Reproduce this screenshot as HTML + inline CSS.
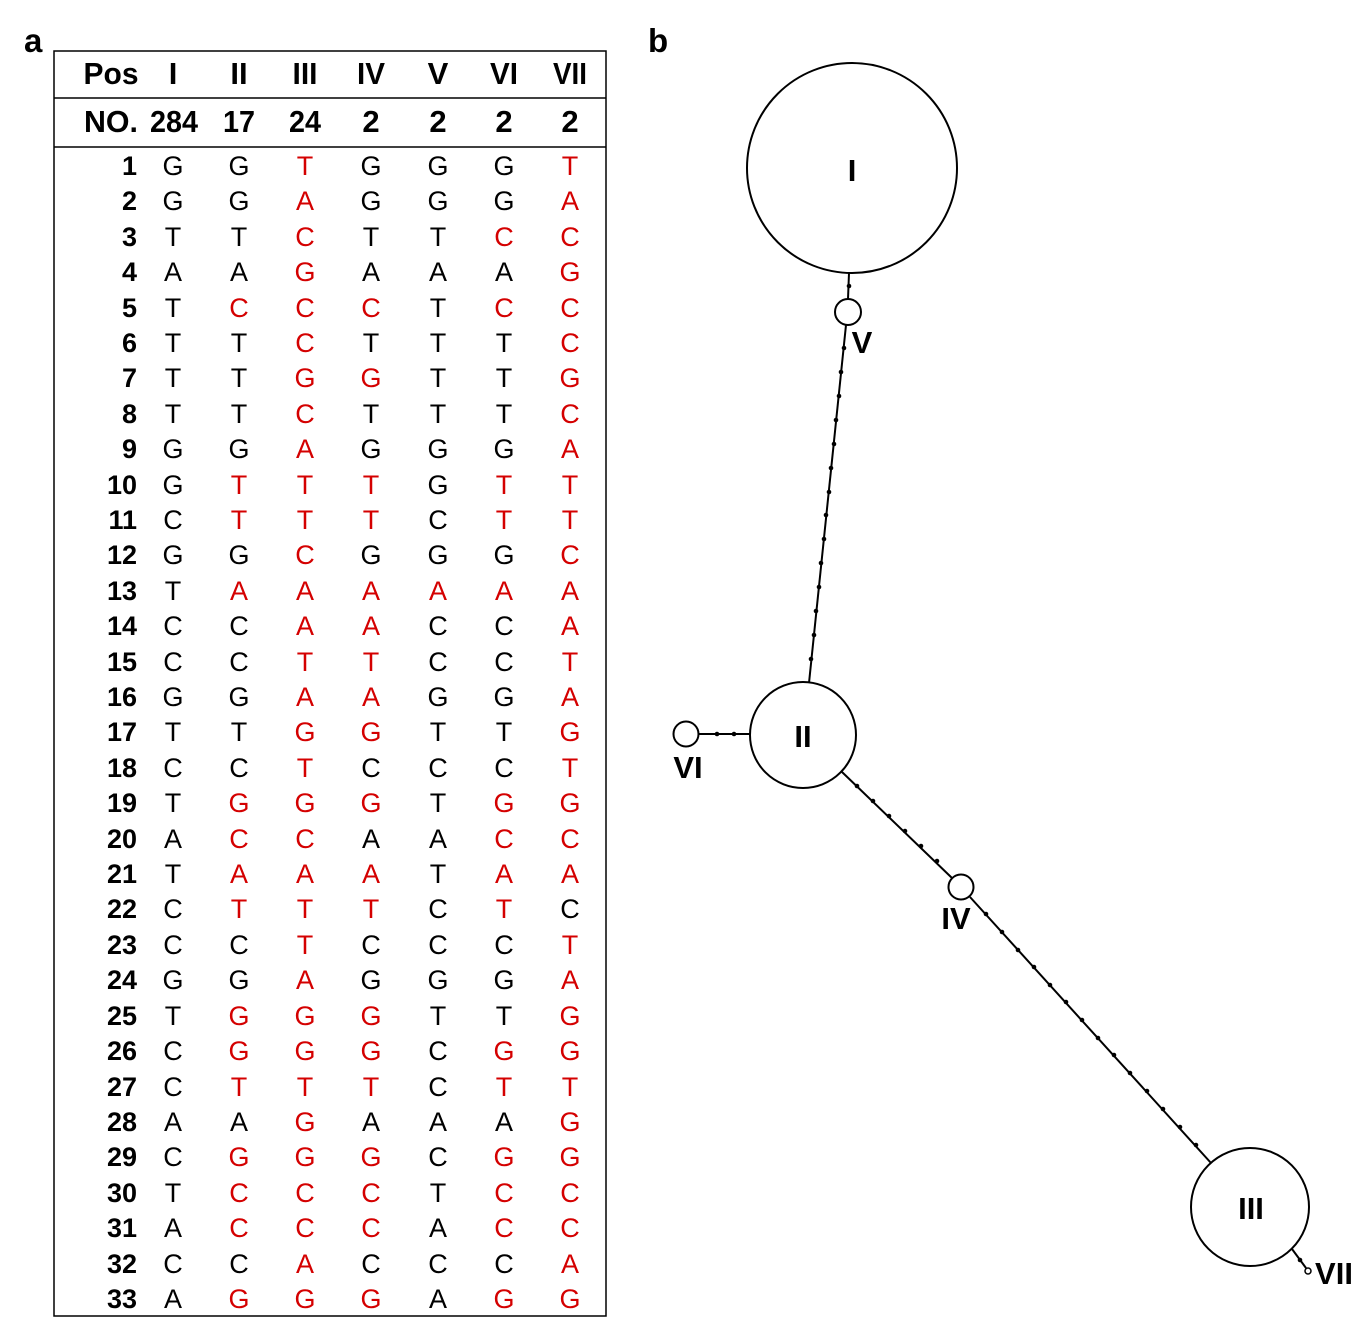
<!DOCTYPE html>
<html><head><meta charset="utf-8"><style>
html,body{margin:0;padding:0;background:#fff}
svg{display:block}
text{font-family:"Liberation Sans",Arial,sans-serif}
.h{font-weight:bold;font-size:29px;text-anchor:middle}
.hh text{font-size:31px}
.n{font-weight:bold;text-anchor:end}
.s{font-size:27px}
.s tspan{text-anchor:middle}
.s tspan.n{text-anchor:end}
.r{fill:#d40000}
.lb{font-weight:bold;font-size:33px}
</style></head><body>
<svg width="1363" height="1333" viewBox="0 0 1363 1333" xmlns="http://www.w3.org/2000/svg">
<text x="24" y="52" class="lb">a</text>
<text x="648" y="52" class="lb">b</text>
<rect x="54" y="51" width="552" height="1265" fill="none" stroke="#000" stroke-width="1.5"/>
<line x1="54" y1="98" x2="606" y2="98" stroke="#000" stroke-width="1.5"/>
<line x1="54" y1="147" x2="606" y2="147" stroke="#000" stroke-width="1.5"/>
<g class="h hh" transform="translate(0,0)">
<text x="111" y="84" textLength="55" lengthAdjust="spacingAndGlyphs">Pos</text><text x="173" y="84">I</text><text x="239" y="84">II</text><text x="305" y="84" textLength="25" lengthAdjust="spacingAndGlyphs">III</text><text x="371" y="84" textLength="28" lengthAdjust="spacingAndGlyphs">IV</text><text x="438" y="84">V</text><text x="504" y="84" textLength="28" lengthAdjust="spacingAndGlyphs">VI</text><text x="570" y="84" textLength="34" lengthAdjust="spacingAndGlyphs">VII</text>
<text x="111" y="132" textLength="54" lengthAdjust="spacingAndGlyphs">NO.</text><text x="174" y="132" textLength="48" lengthAdjust="spacingAndGlyphs">284</text><text x="239" y="132" textLength="32" lengthAdjust="spacingAndGlyphs">17</text><text x="305" y="132" textLength="32" lengthAdjust="spacingAndGlyphs">24</text><text x="371" y="132">2</text><text x="438" y="132">2</text><text x="504" y="132">2</text><text x="570" y="132">2</text>
</g>
<g class="s">
<text y="175"><tspan x="137" class="n">1</tspan><tspan x="173">G</tspan><tspan x="239">G</tspan><tspan x="305" class="r">T</tspan><tspan x="371">G</tspan><tspan x="438">G</tspan><tspan x="504">G</tspan><tspan x="570" class="r">T</tspan></text>
<text y="210"><tspan x="137" class="n">2</tspan><tspan x="173">G</tspan><tspan x="239">G</tspan><tspan x="305" class="r">A</tspan><tspan x="371">G</tspan><tspan x="438">G</tspan><tspan x="504">G</tspan><tspan x="570" class="r">A</tspan></text>
<text y="246"><tspan x="137" class="n">3</tspan><tspan x="173">T</tspan><tspan x="239">T</tspan><tspan x="305" class="r">C</tspan><tspan x="371">T</tspan><tspan x="438">T</tspan><tspan x="504" class="r">C</tspan><tspan x="570" class="r">C</tspan></text>
<text y="281"><tspan x="137" class="n">4</tspan><tspan x="173">A</tspan><tspan x="239">A</tspan><tspan x="305" class="r">G</tspan><tspan x="371">A</tspan><tspan x="438">A</tspan><tspan x="504">A</tspan><tspan x="570" class="r">G</tspan></text>
<text y="317"><tspan x="137" class="n">5</tspan><tspan x="173">T</tspan><tspan x="239" class="r">C</tspan><tspan x="305" class="r">C</tspan><tspan x="371" class="r">C</tspan><tspan x="438">T</tspan><tspan x="504" class="r">C</tspan><tspan x="570" class="r">C</tspan></text>
<text y="352"><tspan x="137" class="n">6</tspan><tspan x="173">T</tspan><tspan x="239">T</tspan><tspan x="305" class="r">C</tspan><tspan x="371">T</tspan><tspan x="438">T</tspan><tspan x="504">T</tspan><tspan x="570" class="r">C</tspan></text>
<text y="387"><tspan x="137" class="n">7</tspan><tspan x="173">T</tspan><tspan x="239">T</tspan><tspan x="305" class="r">G</tspan><tspan x="371" class="r">G</tspan><tspan x="438">T</tspan><tspan x="504">T</tspan><tspan x="570" class="r">G</tspan></text>
<text y="423"><tspan x="137" class="n">8</tspan><tspan x="173">T</tspan><tspan x="239">T</tspan><tspan x="305" class="r">C</tspan><tspan x="371">T</tspan><tspan x="438">T</tspan><tspan x="504">T</tspan><tspan x="570" class="r">C</tspan></text>
<text y="458"><tspan x="137" class="n">9</tspan><tspan x="173">G</tspan><tspan x="239">G</tspan><tspan x="305" class="r">A</tspan><tspan x="371">G</tspan><tspan x="438">G</tspan><tspan x="504">G</tspan><tspan x="570" class="r">A</tspan></text>
<text y="494"><tspan x="137" class="n">10</tspan><tspan x="173">G</tspan><tspan x="239" class="r">T</tspan><tspan x="305" class="r">T</tspan><tspan x="371" class="r">T</tspan><tspan x="438">G</tspan><tspan x="504" class="r">T</tspan><tspan x="570" class="r">T</tspan></text>
<text y="529"><tspan x="137" class="n">11</tspan><tspan x="173">C</tspan><tspan x="239" class="r">T</tspan><tspan x="305" class="r">T</tspan><tspan x="371" class="r">T</tspan><tspan x="438">C</tspan><tspan x="504" class="r">T</tspan><tspan x="570" class="r">T</tspan></text>
<text y="564"><tspan x="137" class="n">12</tspan><tspan x="173">G</tspan><tspan x="239">G</tspan><tspan x="305" class="r">C</tspan><tspan x="371">G</tspan><tspan x="438">G</tspan><tspan x="504">G</tspan><tspan x="570" class="r">C</tspan></text>
<text y="600"><tspan x="137" class="n">13</tspan><tspan x="173">T</tspan><tspan x="239" class="r">A</tspan><tspan x="305" class="r">A</tspan><tspan x="371" class="r">A</tspan><tspan x="438" class="r">A</tspan><tspan x="504" class="r">A</tspan><tspan x="570" class="r">A</tspan></text>
<text y="635"><tspan x="137" class="n">14</tspan><tspan x="173">C</tspan><tspan x="239">C</tspan><tspan x="305" class="r">A</tspan><tspan x="371" class="r">A</tspan><tspan x="438">C</tspan><tspan x="504">C</tspan><tspan x="570" class="r">A</tspan></text>
<text y="671"><tspan x="137" class="n">15</tspan><tspan x="173">C</tspan><tspan x="239">C</tspan><tspan x="305" class="r">T</tspan><tspan x="371" class="r">T</tspan><tspan x="438">C</tspan><tspan x="504">C</tspan><tspan x="570" class="r">T</tspan></text>
<text y="706"><tspan x="137" class="n">16</tspan><tspan x="173">G</tspan><tspan x="239">G</tspan><tspan x="305" class="r">A</tspan><tspan x="371" class="r">A</tspan><tspan x="438">G</tspan><tspan x="504">G</tspan><tspan x="570" class="r">A</tspan></text>
<text y="741"><tspan x="137" class="n">17</tspan><tspan x="173">T</tspan><tspan x="239">T</tspan><tspan x="305" class="r">G</tspan><tspan x="371" class="r">G</tspan><tspan x="438">T</tspan><tspan x="504">T</tspan><tspan x="570" class="r">G</tspan></text>
<text y="777"><tspan x="137" class="n">18</tspan><tspan x="173">C</tspan><tspan x="239">C</tspan><tspan x="305" class="r">T</tspan><tspan x="371">C</tspan><tspan x="438">C</tspan><tspan x="504">C</tspan><tspan x="570" class="r">T</tspan></text>
<text y="812"><tspan x="137" class="n">19</tspan><tspan x="173">T</tspan><tspan x="239" class="r">G</tspan><tspan x="305" class="r">G</tspan><tspan x="371" class="r">G</tspan><tspan x="438">T</tspan><tspan x="504" class="r">G</tspan><tspan x="570" class="r">G</tspan></text>
<text y="848"><tspan x="137" class="n">20</tspan><tspan x="173">A</tspan><tspan x="239" class="r">C</tspan><tspan x="305" class="r">C</tspan><tspan x="371">A</tspan><tspan x="438">A</tspan><tspan x="504" class="r">C</tspan><tspan x="570" class="r">C</tspan></text>
<text y="883"><tspan x="137" class="n">21</tspan><tspan x="173">T</tspan><tspan x="239" class="r">A</tspan><tspan x="305" class="r">A</tspan><tspan x="371" class="r">A</tspan><tspan x="438">T</tspan><tspan x="504" class="r">A</tspan><tspan x="570" class="r">A</tspan></text>
<text y="918"><tspan x="137" class="n">22</tspan><tspan x="173">C</tspan><tspan x="239" class="r">T</tspan><tspan x="305" class="r">T</tspan><tspan x="371" class="r">T</tspan><tspan x="438">C</tspan><tspan x="504" class="r">T</tspan><tspan x="570">C</tspan></text>
<text y="954"><tspan x="137" class="n">23</tspan><tspan x="173">C</tspan><tspan x="239">C</tspan><tspan x="305" class="r">T</tspan><tspan x="371">C</tspan><tspan x="438">C</tspan><tspan x="504">C</tspan><tspan x="570" class="r">T</tspan></text>
<text y="989"><tspan x="137" class="n">24</tspan><tspan x="173">G</tspan><tspan x="239">G</tspan><tspan x="305" class="r">A</tspan><tspan x="371">G</tspan><tspan x="438">G</tspan><tspan x="504">G</tspan><tspan x="570" class="r">A</tspan></text>
<text y="1025"><tspan x="137" class="n">25</tspan><tspan x="173">T</tspan><tspan x="239" class="r">G</tspan><tspan x="305" class="r">G</tspan><tspan x="371" class="r">G</tspan><tspan x="438">T</tspan><tspan x="504">T</tspan><tspan x="570" class="r">G</tspan></text>
<text y="1060"><tspan x="137" class="n">26</tspan><tspan x="173">C</tspan><tspan x="239" class="r">G</tspan><tspan x="305" class="r">G</tspan><tspan x="371" class="r">G</tspan><tspan x="438">C</tspan><tspan x="504" class="r">G</tspan><tspan x="570" class="r">G</tspan></text>
<text y="1096"><tspan x="137" class="n">27</tspan><tspan x="173">C</tspan><tspan x="239" class="r">T</tspan><tspan x="305" class="r">T</tspan><tspan x="371" class="r">T</tspan><tspan x="438">C</tspan><tspan x="504" class="r">T</tspan><tspan x="570" class="r">T</tspan></text>
<text y="1131"><tspan x="137" class="n">28</tspan><tspan x="173">A</tspan><tspan x="239">A</tspan><tspan x="305" class="r">G</tspan><tspan x="371">A</tspan><tspan x="438">A</tspan><tspan x="504">A</tspan><tspan x="570" class="r">G</tspan></text>
<text y="1166"><tspan x="137" class="n">29</tspan><tspan x="173">C</tspan><tspan x="239" class="r">G</tspan><tspan x="305" class="r">G</tspan><tspan x="371" class="r">G</tspan><tspan x="438">C</tspan><tspan x="504" class="r">G</tspan><tspan x="570" class="r">G</tspan></text>
<text y="1202"><tspan x="137" class="n">30</tspan><tspan x="173">T</tspan><tspan x="239" class="r">C</tspan><tspan x="305" class="r">C</tspan><tspan x="371" class="r">C</tspan><tspan x="438">T</tspan><tspan x="504" class="r">C</tspan><tspan x="570" class="r">C</tspan></text>
<text y="1237"><tspan x="137" class="n">31</tspan><tspan x="173">A</tspan><tspan x="239" class="r">C</tspan><tspan x="305" class="r">C</tspan><tspan x="371" class="r">C</tspan><tspan x="438">A</tspan><tspan x="504" class="r">C</tspan><tspan x="570" class="r">C</tspan></text>
<text y="1273"><tspan x="137" class="n">32</tspan><tspan x="173">C</tspan><tspan x="239">C</tspan><tspan x="305" class="r">A</tspan><tspan x="371">C</tspan><tspan x="438">C</tspan><tspan x="504">C</tspan><tspan x="570" class="r">A</tspan></text>
<text y="1308"><tspan x="137" class="n">33</tspan><tspan x="173">A</tspan><tspan x="239" class="r">G</tspan><tspan x="305" class="r">G</tspan><tspan x="371" class="r">G</tspan><tspan x="438">A</tspan><tspan x="504" class="r">G</tspan><tspan x="570" class="r">G</tspan></text>
</g>

<g stroke="#000" stroke-width="2" fill="none">
<line x1="849" y1="273" x2="848" y2="299"/>
<line x1="846" y1="325" x2="809" y2="683"/>
<line x1="699" y1="734" x2="750" y2="734"/>
<line x1="842" y1="772" x2="952" y2="878"/>
<line x1="970" y1="897" x2="1211" y2="1163"/>
<line x1="1292" y1="1249" x2="1306" y2="1268"/>
<circle cx="852" cy="168" r="105" fill="#fff"/>
<circle cx="848" cy="312" r="13" fill="#fff"/>
<circle cx="803" cy="735" r="53" fill="#fff"/>
<circle cx="686" cy="734" r="12.5" fill="#fff"/>
<circle cx="961" cy="887" r="12.5" fill="#fff"/>
<circle cx="1250" cy="1207" r="59" fill="#fff"/>
<circle cx="1308" cy="1271" r="3" fill="#fff" stroke-width="1.5"/>
</g>
<g fill="#000">
<circle cx="849" cy="286" r="2.3"/>
<circle cx="844" cy="348" r="2.3"/><circle cx="841" cy="372" r="2.3"/><circle cx="839" cy="396" r="2.3"/><circle cx="836" cy="420" r="2.3"/><circle cx="834" cy="444" r="2.3"/><circle cx="831" cy="468" r="2.3"/><circle cx="829" cy="492" r="2.3"/><circle cx="826" cy="515" r="2.3"/><circle cx="824" cy="539" r="2.3"/><circle cx="821" cy="563" r="2.3"/><circle cx="819" cy="587" r="2.3"/><circle cx="816" cy="611" r="2.3"/><circle cx="814" cy="635" r="2.3"/><circle cx="811" cy="659" r="2.3"/>
<circle cx="717" cy="734" r="2.3"/><circle cx="734" cy="734" r="2.3"/>
<circle cx="857" cy="786" r="2.3"/><circle cx="873" cy="801" r="2.3"/><circle cx="889" cy="816" r="2.3"/><circle cx="905" cy="831" r="2.3"/><circle cx="921" cy="846" r="2.3"/><circle cx="937" cy="861" r="2.3"/>
<circle cx="986" cy="914" r="2.3"/><circle cx="1002" cy="932" r="2.3"/><circle cx="1018" cy="950" r="2.3"/><circle cx="1034" cy="967" r="2.3"/><circle cx="1050" cy="985" r="2.3"/><circle cx="1066" cy="1002" r="2.3"/><circle cx="1082" cy="1020" r="2.3"/><circle cx="1098" cy="1038" r="2.3"/><circle cx="1114" cy="1055" r="2.3"/><circle cx="1130" cy="1073" r="2.3"/><circle cx="1147" cy="1091" r="2.3"/><circle cx="1163" cy="1109" r="2.3"/><circle cx="1180" cy="1127" r="2.3"/><circle cx="1196" cy="1145" r="2.3"/>
<circle cx="1300" cy="1260" r="2.3"/>
</g>
<g class="h" style="font-size:31px">
<text x="852" y="181">I</text>
<text x="803" y="747">II</text>
<text x="1251" y="1219">III</text>
<text x="862" y="353">V</text>
<text x="688" y="778">VI</text>
<text x="956" y="929">IV</text>
<text x="1334" y="1284">VII</text>
</g>
</svg>
</body></html>
